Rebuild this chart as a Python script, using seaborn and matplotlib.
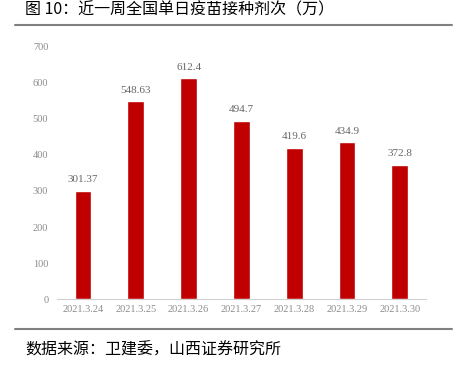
import matplotlib
matplotlib.use("Agg")
import matplotlib.pyplot as plt
import seaborn as sns
import pandas as pd

# data
dates = ["2021.3.24", "2021.3.25", "2021.3.26", "2021.3.27",
         "2021.3.28", "2021.3.29", "2021.3.30"]
doses = [301.37, 548.63, 612.4, 494.7, 419.6, 434.9, 372.8]
value_labels = ["301.37", "548.63", "612.4", "494.7", "419.6", "434.9", "372.8"]

df = pd.DataFrame({"date": dates, "doses": doses})

sns.set_theme(style="white")
plt.rcParams['font.family'] = ['Noto Sans CJK SC', 'DejaVu Sans']

fig = plt.figure(figsize=(4.65, 3.72), dpi=100)
ax = fig.add_axes([0.1217, 0.196, 0.795, 0.678])

sns.barplot(data=df, x="date", y="doses", color="#C00000", width=0.32,
            saturation=1, ax=ax)

gray = "#8c8c8c"
serif = "Liberation Serif"
for i, (v, lab) in enumerate(zip(doses, value_labels)):
    ax.text(i, v + 18, lab, ha="center", va="bottom", fontsize=8,
            color="#666666", family=serif)

ax.set_xlim(-0.5, 6.5)
ax.set_ylim(0, 700)
ax.set_yticks(range(0, 701, 100))
ax.set_xlabel("")
ax.set_ylabel("")
for lab in ax.get_xticklabels() + ax.get_yticklabels():
    lab.set_family(serif)
    lab.set_color(gray)
    lab.set_fontsize(7.5)
ax.tick_params(axis="x", length=0, pad=4)
ax.tick_params(axis="y", length=0, pad=6)
for s in ["left", "right", "top"]:
    ax.spines[s].set_visible(False)
ax.spines["bottom"].set_color("#d0d0d0")
ax.spines["bottom"].set_linewidth(0.8)

# title, rules and source note
fig.text(25 / 465, 1 - 10 / 372, "图 10：近一周全国单日疫苗接种剂次（万）",
         fontsize=11.5, va="center", ha="left", color="black")
fig.add_artist(plt.Line2D([15 / 465, 452 / 465], [1 - 25 / 372, 1 - 25 / 372],
                          color="#808080", linewidth=1.5))
fig.add_artist(plt.Line2D([15 / 465, 452 / 465], [1 - 329 / 372, 1 - 329 / 372],
                          color="#808080", linewidth=1.5))
fig.text(25 / 465, 1 - 350 / 372, "数据来源：卫建委，山西证券研究所",
         fontsize=11.5, va="center", ha="left", color="black")

fig.savefig("out.png", dpi=100, facecolor="white")
